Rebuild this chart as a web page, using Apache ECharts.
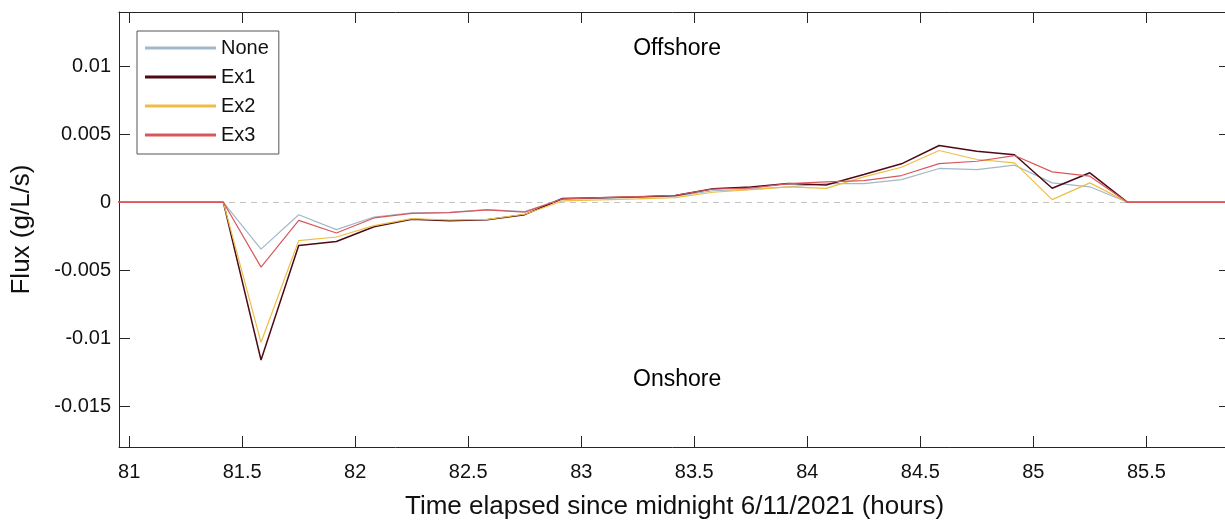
<!DOCTYPE html>
<html>
<head>
<meta charset="utf-8">
<script src="https://cdn.jsdelivr.net/npm/echarts@6/dist/echarts.min.js"></script>
<style>
html,body{margin:0;padding:0;background:#fff;}
#chart{width:1225px;height:520px;}
</style>
</head>
<body>
<div id="chart"></div>
<script>
const hours = [80.9167, 81.0833, 81.25, 81.4167, 81.5833, 81.75, 81.9167, 82.0833, 82.25, 82.4167, 82.5833, 82.75, 82.9167, 83.0833, 83.25, 83.4167, 83.5833, 83.75, 83.9167, 84.0833, 84.25, 84.4167, 84.5833, 84.75, 84.9167, 85.0833, 85.25, 85.4167, 85.5833, 85.75, 85.9167];
const fluxNone = [0, 0, 0, 0, -0.00344, -0.00091, -0.00201, -0.00108, -0.00078, -0.00074, -0.00054, -0.00069, 0.00022, 0.00030, 0.00036, 0.00046, 0.00085, 0.00095, 0.00114, 0.00138, 0.00138, 0.00167, 0.00249, 0.00241, 0.00273, 0.00143, 0.00114, 0, 0, 0, 0];
const fluxEx1 = [0, 0, 0, 0, -0.0116, -0.00317, -0.00288, -0.0018, -0.00125, -0.00135, -0.00128, -0.00091, 0.00028, 0.00034, 0.0004, 0.0005, 0.001, 0.00113, 0.00138, 0.00128, 0.00204, 0.00283, 0.00418, 0.00376, 0.0035, 0.00103, 0.00217, 0, 0, 0, 0];
const fluxEx2 = [0, 0, 0, 0, -0.0103, -0.00282, -0.00255, -0.00172, -0.0012, -0.0013, -0.00125, -0.00088, 0.0001, 0.00018, 0.00025, 0.00035, 0.00074, 0.00094, 0.00114, 0.00103, 0.00187, 0.00258, 0.00381, 0.00315, 0.0029, 0.0002, 0.00143, 0, 0, 0, 0];
const fluxEx3 = [0, 0, 0, 0, -0.00477, -0.00133, -0.00226, -0.00115, -0.00082, -0.00076, -0.00056, -0.00072, 0.00026, 0.00035, 0.00042, 0.00052, 0.00098, 0.00105, 0.00138, 0.0015, 0.0016, 0.00197, 0.00285, 0.00302, 0.00344, 0.00224, 0.00192, 0, 0, 0, 0];
const seriesNames = ['None', 'Ex1', 'Ex2', 'Ex3'];
const xTicks = [81, 81.5, 82, 82.5, 83, 83.5, 84, 84.5, 85, 85.5];
const yTicks = [-0.015, -0.01, -0.005, 0, 0.005, 0.01];
const xLabel = 'Time elapsed since midnight 6/11/2021 (hours)';
const yLabel = 'Flux (g/L/s)';
const annotations = [{text: 'Offshore', x: 83.424, y: 0.01134}, {text: 'Onshore', x: 83.424, y: -0.01308}];

const colors = ['#a3b8c8', '#4d0a14', '#ecbe45', '#d9575c'];
const widths = [1.2, 1.5, 1.2, 1.2];
const allData = [fluxNone, fluxEx1, fluxEx2, fluxEx3];
const FONT = 'Liberation Sans, Arial, Helvetica, sans-serif';
const AX = '#262626';
const TXT = '#111111';
const X_MIN = 80.955, X_MAX = 85.87, Y_MIN = -0.018, Y_MAX = 0.014;

function pair(xs, ys){ return xs.map((x,i)=>[x, ys[i]]); }

const chart = echarts.init(document.getElementById('chart'), null, {renderer:'canvas'});

const baseX = {
  type:'value', min:X_MIN, max:X_MAX,
  axisLine:{show:true, onZero:false, lineStyle:{color:AX, width:1}},
  axisTick:{show:true, inside:true, length:11, customValues:xTicks, lineStyle:{color:AX, width:1}},
  splitLine:{show:false}
};
const baseY = {
  type:'value', min:Y_MIN, max:Y_MAX,
  axisLine:{show:true, onZero:false, lineStyle:{color:AX, width:1}},
  axisTick:{show:true, inside:true, length:11, customValues:yTicks, lineStyle:{color:AX, width:1}},
  splitLine:{show:false}
};

const series = seriesNames.map((n,i)=>({
  name:n, type:'line', data:pair(hours, allData[i]), showSymbol:false, symbol:'none',
  lineStyle:{color:colors[i], width:widths[i]}, itemStyle:{color:colors[i]},
  z: 3 + i, animation:false
}));

series.unshift({
  name:'zero', type:'line', data:[], silent:true, z:1, animation:false,
  markLine:{silent:true, symbol:['none','none'], label:{show:false},
    lineStyle:{color:'#c4c4c4', type:[6,5], width:1},
    data:[{yAxis:0}], animation:false}
});
series.push({
  name:'notes', type:'scatter', symbolSize:0, silent:true, z:10, animation:false,
  itemStyle:{opacity:1},
  data: annotations.map(a=>({value:[a.x, a.y], label:{show:true, formatter:a.text}})),
  label:{show:true, position:'inside', color:'#000', opacity:1, fontSize:23, fontFamily:FONT}
});

const option = {
  animation:false,
  backgroundColor:'#fff',
  grid:{left:119, width:1111, top:12, bottom:73, containLabel:false, outerBoundsMode:'none'},
  legend:{
    data: seriesNames.map((n,i)=>({name:n, icon:'rect'})),
    orient:'vertical', left:137, top:31,
    itemWidth:71, itemHeight:3, itemGap:7,
    padding:[6, 10, 8, 8],
    borderColor:'#555', borderWidth:1, backgroundColor:'#fff',
    textStyle:{fontSize:20, fontFamily:FONT, color:TXT, lineHeight:22},
    selectedMode:false
  },
  xAxis:[
    Object.assign({}, baseX, {
      position:'bottom',
      name:xLabel, nameLocation:'middle', nameGap:47,
      nameTextStyle:{fontSize:26, fontFamily:FONT, color:TXT},
      axisLabel:{show:true, customValues:xTicks, margin:15, fontSize:20, fontFamily:FONT, color:TXT,
        formatter:v=>String(v)}
    }),
    Object.assign({}, baseX, {position:'top', axisLabel:{show:false}})
  ],
  yAxis:[
    Object.assign({}, baseY, {
      position:'left',
      name:yLabel, nameLocation:'middle', nameGap:84,
      nameTextStyle:{fontSize:26, fontFamily:FONT, color:TXT},
      axisLabel:{show:true, customValues:yTicks, margin:8, fontSize:20, fontFamily:FONT, color:TXT,
        formatter:v=>String(v)}
    }),
    Object.assign({}, baseY, {position:'right', axisLabel:{show:false}})
  ],
  series: series
};
chart.setOption(option);
</script>
</body>
</html>
